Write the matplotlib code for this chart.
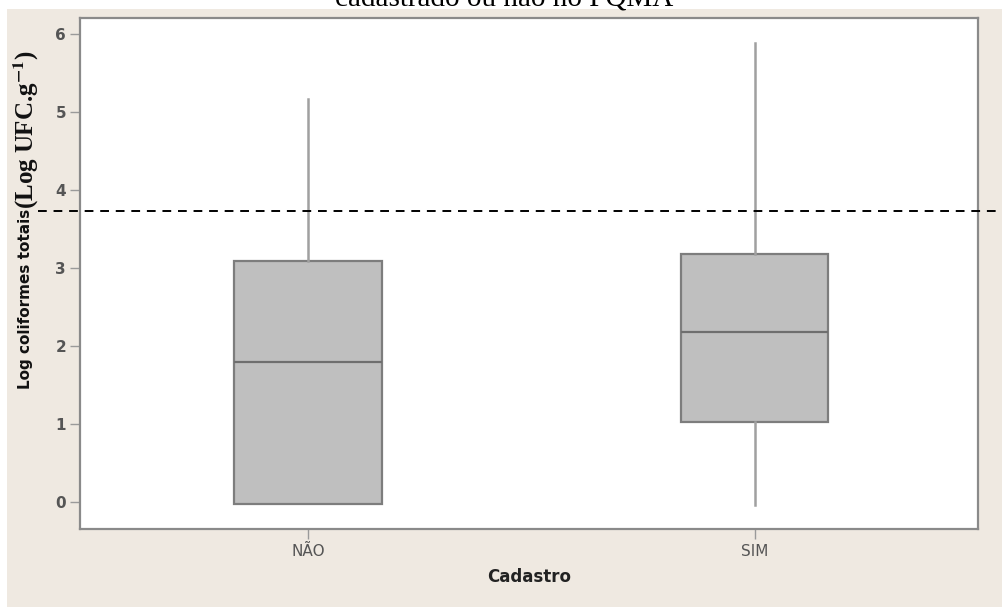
import matplotlib
matplotlib.use("Agg")
import matplotlib.pyplot as plt
from matplotlib.patches import Rectangle
from matplotlib.lines import Line2D
import matplotlib.transforms as mtransforms

plt.rcParams["mathtext.fontset"] = "stix"

# Box summaries of log total coliforms per registration group
categories = ["NÃO", "SIM"]
whisker_low = [-0.03, -0.04]
q1 = [-0.03, 1.03]
median = [1.80, 2.18]
q3 = [3.09, 3.18]
whisker_high = [5.17, 5.88]
limit_value = 3.73
y_ticks = [0, 1, 2, 3, 4, 5, 6]

title_text = "cadastrado ou não no PQMA"
xlabel_text = "Cadastro"
ylabel_sans = "Log coliformes totais"
ylabel_serif = r"(Log UFC.g$^{\mathbf{-1}}$)"

W, H = 1002, 607
fig = plt.figure(figsize=(W / 100, H / 100), dpi=100)
fig.patch.set_facecolor("white")

# Beige graph region behind the plot area
fig.add_artist(Rectangle((7 / W, 0), 1 - 7 / W, 1 - 9 / H, transform=fig.transFigure,
                         facecolor="#efe9e1", edgecolor="none", zorder=0))

ax = fig.add_axes([80 / W, 1 - 529 / H, (978 - 80) / W, (529 - 18) / H])
ax.set_facecolor("white")
ax.set_zorder(1)

stats = []
for i, name in enumerate(categories):
    stats.append(dict(label=name, whislo=whisker_low[i], q1=q1[i], med=median[i],
                      q3=q3[i], whishi=whisker_high[i], fliers=[]))

ax.bxp(stats, positions=[1, 2], widths=0.33, patch_artist=True, showcaps=False,
       boxprops=dict(facecolor="#bfbfbf", edgecolor="#7d7d7d", linewidth=1.6),
       medianprops=dict(color="#6e6e6e", linewidth=1.6),
       whiskerprops=dict(color="#a0a0a0", linewidth=1.8))

ax.set_xlim(0.49, 2.5)
ax.set_ylim(-0.346, 6.205)
ax.set_yticks(y_ticks)
ax.set_yticklabels([str(t) for t in y_ticks])

for sp in ax.spines.values():
    sp.set_color("#8a8a8a")
    sp.set_linewidth(1.6)

ax.tick_params(axis="both", direction="out", length=7, width=1.0, color="#9a9a9a",
               labelcolor="#555555", labelsize=11)
for lbl in ax.get_yticklabels():
    lbl.set_fontweight("bold")
    lbl.set_family("DejaVu Sans")
for lbl in ax.get_xticklabels():
    lbl.set_family("DejaVu Sans")
ax.tick_params(axis="x", pad=4)
ax.tick_params(axis="y", pad=3)

ax.set_xlabel(xlabel_text, fontsize=12, fontweight="bold", color="#222222",
              family="DejaVu Sans", labelpad=6)

# Reference limit drawn across the whole graph region
trans = mtransforms.blended_transform_factory(fig.transFigure, ax.transData)
fig.add_artist(Line2D([38 / W, 1.0], [limit_value, limit_value], transform=trans,
                      color="black", linewidth=1.4, linestyle=(0, (4.5, 3.5)), zorder=5))

# Two-font y label: sans part, then serif unit part stacked above it
t1 = fig.text(26 / W, 1 - 389 / H, ylabel_sans, rotation=90, ha="center", va="bottom",
              fontsize=11, fontweight="bold", color="#111111", family="DejaVu Sans")
ax.annotate(ylabel_serif, xy=(0.5, 1.0), xycoords=t1, rotation=90, ha="center", va="bottom",
            fontsize=18, fontweight="bold", color="#111111", family="Liberation Serif",
            annotation_clip=False)

# Title line
fig.text(0.503, 1 - 6 / H, title_text, ha="center", va="baseline", fontsize=21,
         family="Liberation Serif", color="black")

fig.savefig("out.png", dpi=100, facecolor=fig.get_facecolor())
